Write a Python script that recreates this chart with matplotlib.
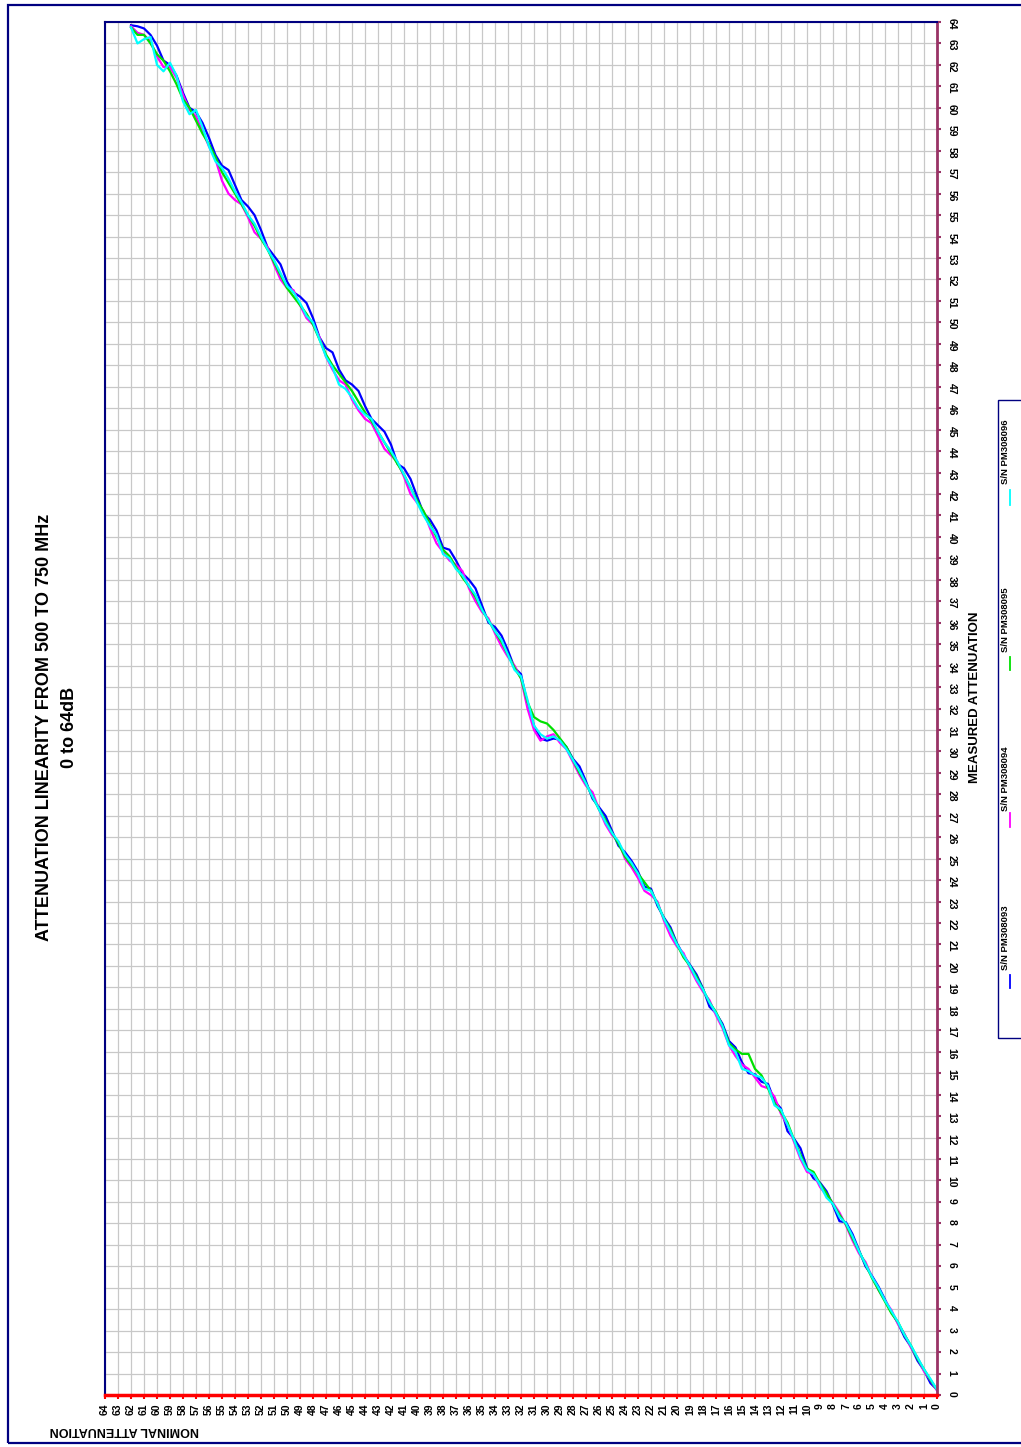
import numpy as np
import matplotlib.pyplot as plt
from matplotlib.patches import Rectangle
from matplotlib.lines import Line2D

plt.rcParams['font.family'] = ['Liberation Sans', 'DejaVu Sans']

W, H = 1021, 1447

# nominal attenuation setting (dB), 0.5 dB steps
nominal = np.arange(0, 62.5, 0.5)

# measured attenuation (dB) per unit, 5 dB of nominal per row
pm308093 = [0.25, 0.55, 1.15, 1.6, 2.25, 2.7, 3.35, 3.85, 4.45, 5.05,
            5.55, 6.0, 6.75, 7.5, 8.05, 8.1, 8.85, 9.5, 9.9, 10.1,
            10.6, 11.5, 11.95, 12.3, 13.35, 13.7, 14.5, 14.6, 14.95, 15.0,
            15.5, 16.2, 16.5, 17.3, 17.8, 18.1, 18.95, 19.6, 20.05, 20.5,
            21.05, 21.8, 22.25, 22.8, 23.6, 23.7, 24.4, 24.9, 25.3, 25.6,
            26.3, 27.0, 27.4, 27.8, 28.6, 29.3, 29.65, 30.2, 30.55, 30.6,
            30.5, 30.6, 31.2, 32.2, 33.6, 33.9, 34.7, 35.4, 35.8, 36.0,
            36.8, 37.6, 38.0, 38.3, 38.9, 39.4, 39.5, 40.3, 40.8, 41.1,
            41.9, 42.7, 43.2, 43.4, 44.3, 44.9, 45.2, 45.5, 46.1, 46.8,
            47.1, 47.3, 47.8, 48.6, 48.8, 49.3, 50.2, 50.9, 51.2, 51.4,
            51.9, 52.7, 53.1, 53.5, 54.3, 55.0, 55.4, 55.7, 56.4, 57.1,
            57.3, 57.8, 58.6, 59.3, 59.8, 60.0, 60.7, 61.5, 62.0, 62.2,
            62.9, 63.4, 63.7, 63.8, 63.85]
pm308094 = [0.2, 0.7, 1.1, 1.75, 2.2, 2.85, 3.3, 3.95, 4.4, 4.9,
            5.5, 6.2, 6.6, 7.2, 7.9, 8.5, 8.95, 9.3, 9.7, 10.3,
            10.4, 11.0, 11.8, 12.6, 13.1, 13.9, 14.3, 14.4, 14.8, 15.2,
            15.4, 15.8, 16.3, 17.1, 17.7, 18.4, 18.8, 19.3, 19.9, 20.6,
            20.9, 21.4, 22.1, 23.0, 23.3, 23.5, 24.1, 24.6, 25.0, 25.8,
            26.1, 26.6, 27.3, 28.1, 28.4, 28.9, 29.5, 30.1, 30.4, 30.8,
            30.7, 30.5, 31.0, 32.0, 33.4, 34.0, 34.4, 34.9, 35.5, 36.2,
            36.5, 37.0, 37.6, 38.4, 38.7, 38.9, 39.3, 39.7, 40.4, 41.2,
            41.6, 42.0, 42.8, 43.5, 43.8, 44.1, 44.7, 45.3, 45.5, 45.9,
            46.4, 47.1, 47.3, 47.8, 48.4, 49.3, 49.9, 50.2, 50.8, 51.5,
            51.6, 52.0, 52.7, 53.5, 53.9, 54.2, 54.9, 55.5, 55.7, 56.0,
            56.6, 57.6, 58.2, 58.9, 59.6, 59.9, 60.6, 61.4, 61.9, 61.9,
            62.4, 63.1, 63.4, 63.5, 63.8]
pm308095 = [0.25, 0.7, 1.2, 1.7, 2.3, 2.8, 3.4, 3.8, 4.35, 4.9,
            5.45, 6.1, 6.7, 7.3, 7.95, 8.4, 8.9, 9.4, 9.85, 10.4,
            10.55, 11.2, 11.9, 12.7, 13.2, 13.6, 14.3, 14.9, 15.2, 15.9,
            15.9, 16.1, 16.4, 17.2, 17.85, 18.3, 18.9, 19.5, 20.0, 20.4,
            21.0, 21.7, 22.2, 22.9, 23.5, 23.9, 24.3, 24.7, 25.1, 25.7,
            26.2, 26.8, 27.3, 27.9, 28.5, 29.0, 29.6, 30.2, 30.6, 31.0,
            31.3, 31.4, 31.6, 32.3, 33.4, 33.9, 34.5, 35.1, 35.6, 36.1,
            36.6, 37.2, 37.7, 38.1, 38.6, 39.1, 39.4, 40.0, 40.6, 41.2,
            41.7, 42.3, 42.9, 43.4, 43.9, 44.4, 44.9, 45.4, 45.8, 46.3,
            46.8, 47.2, 47.6, 48.0, 48.5, 49.2, 49.9, 50.4, 50.8, 51.2,
            51.6, 52.2, 52.8, 53.4, 53.9, 54.5, 55.0, 55.5, 56.0, 56.5,
            57.0, 57.7, 58.3, 58.8, 59.4, 60.0, 60.4, 61.1, 61.7, 62.2,
            62.5, 63.0, 63.4, 63.4, 63.75]
pm308096 = [0.25, 0.75, 1.2, 1.75, 2.3, 2.8, 3.4, 3.9, 4.4, 5.0,
            5.5, 6.1, 6.7, 7.4, 8.0, 8.3, 8.9, 9.2, 9.8, 10.3,
            10.5, 11.1, 11.9, 12.6, 13.3, 13.5, 14.4, 14.8, 14.9, 15.1,
            15.2, 16.0, 16.3, 17.2, 17.8, 18.3, 18.9, 19.4, 20.0, 20.5,
            21.0, 21.6, 22.2, 22.9, 23.5, 23.6, 24.3, 24.8, 25.2, 25.8,
            26.2, 26.7, 27.3, 27.9, 28.5, 29.1, 29.6, 30.1, 30.5, 30.7,
            30.6, 30.8, 31.2, 32.4, 33.5, 33.8, 34.5, 35.2, 35.6, 36.1,
            36.6, 37.3, 37.7, 38.2, 38.5, 39.0, 39.2, 40.1, 40.5, 41.0,
            41.6, 42.3, 42.9, 43.5, 44.0, 44.4, 44.9, 45.5, 45.7, 46.0,
            46.5, 46.9, 47.1, 47.9, 48.4, 49.2, 50.0, 50.3, 50.9, 51.4,
            51.7, 52.3, 52.9, 53.4, 54.0, 54.6, 55.0, 55.6, 56.1, 56.7,
            57.2, 57.5, 58.2, 59.1, 59.9, 59.7, 60.3, 61.5, 62.1, 61.7,
            62.0, 63.3, 63.2, 63.0, 63.75]

series = [pm308093, pm308094, pm308095, pm308096]
labels = ['S/N PM308093', 'S/N PM308094', 'S/N PM308095', 'S/N PM308096']
colors = ['#0000ff', '#ff00ff', '#00e000', '#00ffff']

fig = plt.figure(figsize=(W / 100, H / 100), dpi=100)
ax = fig.add_axes([105 / W, 1 - 1395 / H, 832 / W, 1373 / H])

for vals, color in zip(series, colors):
    ax.plot(nominal, vals, color=color, lw=1.6)

ax.set_xlim(64, 0)
ax.set_ylim(0, 64)
ax.set_xticks(range(65))
ax.set_yticks(range(65))
ax.grid(True, color='#c8c8c8', lw=0.9)
ax.set_axisbelow(True)

ax.yaxis.tick_right()
ax.tick_params(axis='y', direction='out', length=3, width=1.5, color='#993366',
               labelsize=7.5, labelrotation=-90, pad=4)
ax.tick_params(axis='x', direction='out', length=3, width=1.5, color='red',
               labelsize=7.5, labelrotation=90, pad=3)
for lbl in ax.get_xticklabels() + ax.get_yticklabels():
    lbl.set_fontweight('bold')

ax.spines['left'].set_color('#000080')
ax.spines['top'].set_color('#000080')
ax.spines['left'].set_linewidth(1.5)
ax.spines['top'].set_linewidth(1.5)
ax.spines['right'].set_color('#993366')
ax.spines['right'].set_linewidth(2)
ax.spines['bottom'].set_color('red')
ax.spines['bottom'].set_linewidth(2.5)

# outer frame
fig.patches.append(Rectangle((8 / W, 1 - 1443 / H), (1030 - 8) / W, (1443 - 5) / H,
                             transform=fig.transFigure, fill=False,
                             edgecolor='#000080', lw=1.6))

fig.text(45 / W, 1 - 727 / H, 'ATTENUATION LINEARITY FROM 500 TO 750 MHz',
         rotation=90, ha='center', va='center', fontsize=13, weight='bold')
fig.text(70 / W, 1 - 727 / H, '0 to 64dB',
         rotation=90, ha='center', va='center', fontsize=13, weight='bold')
fig.text(975 / W, 1 - 697 / H, 'MEASURED ATTENUATION',
         rotation=90, ha='center', va='center', fontsize=9.5, weight='bold')
fig.text(124 / W, 1 - 1430 / H, 'NOMINAL ATTENUATION',
         rotation=180, ha='center', va='center', fontsize=9, weight='bold')

# legend box, drawn sideways
fig.patches.append(Rectangle((998 / W, 1 - 1038 / H), 40 / W, (1038 - 400) / H,
                             transform=fig.transFigure, fill=False,
                             edgecolor='#000080', lw=1.0))
line_spans = [(975, 988), (813, 827), (657, 670), (490, 505)]
text_centers = [938, 779, 620, 452]
for lab, color, (y0, y1), yc in zip(labels, colors, line_spans, text_centers):
    fig.lines.append(Line2D([1010 / W, 1010 / W], [1 - y0 / H, 1 - y1 / H],
                            transform=fig.transFigure, color=color, lw=1.3))
    fig.text(1005 / W, 1 - yc / H, lab, rotation=90, ha='center', va='center',
             fontsize=6.8, weight='bold')

fig.savefig('out.png', dpi=100)
